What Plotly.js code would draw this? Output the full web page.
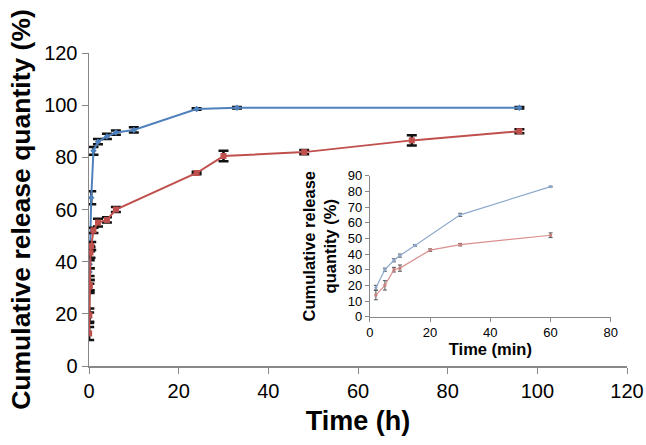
<!DOCTYPE html>
<html><head><meta charset="utf-8">
<script src="https://cdn.plot.ly/plotly-3.0.1.min.js"></script>
<style>html,body{margin:0;padding:0;background:#fff}#chart{width:646px;height:445px}</style>
</head><body><div id="chart"></div>
<script>
// Main chart (hours)
const blueHours = [0.033, 0.083, 0.133, 0.167, 0.25, 0.5, 1, 2, 4, 6, 10, 24, 33, 96];
const blueMain  = [18.5, 30, 36, 39, 45, 64.5, 82.5, 86, 88, 89.5, 90.5, 98.5, 99, 99];
const blueErr   = [2, 1.5, 1.5, 1.5, 1, 2.5, 1.5, 1, 1, 0.8, 1, 0.3, 0.3, 0.3];
const redHours  = [0.033, 0.083, 0.133, 0.167, 0.333, 0.5, 1, 2, 4, 6, 24, 30, 48, 72, 96];
const redMain   = [12.5, 19.5, 30.5, 31, 43.5, 46, 52, 55, 56, 60, 74, 80.5, 82, 86.5, 90];
const redErr    = [2.5, 2.5, 2.5, 2, 2, 1.5, 1, 1.5, 1, 1, 0.5, 2, 0.8, 2, 0.8];
// Inset (minutes)
const blueMin   = [2, 5, 8, 10, 15, 30, 60];
const blueInset = [18.5, 30, 36, 39, 45.5, 65, 83];
const blueInErr = [1.5, 1, 1, 1, 0.5, 1, 0.3];
const redMin    = [2, 5, 8, 10, 20, 30, 60];
const redInset  = [13.8, 20, 30, 31, 42.5, 46, 52];
const redInErr  = [3, 3, 1.5, 2, 0.8, 0.8, 1.5];

const blue = '#4F81BD', red = '#C0504D';
const font = 'Liberation Sans, Arial, sans-serif';

const traces = [
  {x: blueHours, y: blueMain, type: 'scatter', mode: 'lines+markers',
   line: {color: blue, width: 2}, marker: {symbol: 'diamond', size: 5, color: blue},
   error_y: {type: 'data', array: blueErr, visible: true, color: '#111', thickness: 2.5, width: 5},
   xaxis: 'x', yaxis: 'y'},
  {x: redHours, y: redMain, type: 'scatter', mode: 'lines+markers',
   line: {color: red, width: 2}, marker: {symbol: 'square', size: 6, color: red},
   error_y: {type: 'data', array: redErr, visible: true, color: '#111', thickness: 2.5, width: 5},
   xaxis: 'x', yaxis: 'y'},
  {x: blueMin, y: blueInset, type: 'scatter', mode: 'lines+markers',
   line: {color: '#8FAACC', width: 1.2}, marker: {symbol: 'diamond', size: 3, color: '#8FAACC'},
   error_y: {type: 'data', array: blueInErr, visible: true, color: '#555', thickness: 1, width: 2},
   xaxis: 'x2', yaxis: 'y2'},
  {x: redMin, y: redInset, type: 'scatter', mode: 'lines+markers',
   line: {color: '#D9908E', width: 1.2}, marker: {symbol: 'square', size: 3, color: '#C9807E'},
   error_y: {type: 'data', array: redInErr, visible: true, color: '#555', thickness: 1, width: 2},
   xaxis: 'x2', yaxis: 'y2'}
];

const layout = {
  width: 646, height: 445,
  margin: {l: 89, r: 19, t: 53, b: 79},
  paper_bgcolor: '#fff', plot_bgcolor: 'rgba(0,0,0,0)',
  showlegend: false,
  font: {family: font, color: '#000'},
  xaxis: {range: [0, 120], dtick: 20, showgrid: false, zeroline: false,
    showline: true, linecolor: '#888', linewidth: 1.5, ticks: 'outside', ticklen: 6, tickcolor: '#888',
    tickfont: {size: 20, family: font}, domain: [0, 1],
    title: {text: '<b>Time (h)</b>', font: {size: 27, family: font}, standoff: 10}},
  yaxis: {range: [0, 120], dtick: 20, showgrid: false, zeroline: false,
    showline: true, linecolor: '#888', linewidth: 1.5, ticks: 'outside', ticklen: 6, tickcolor: '#888',
    tickfont: {size: 20, family: font}, domain: [0, 1],
    title: {text: '<b>Cumulative release quantity (%)</b>', font: {size: 26.5, family: font}, standoff: 6}},
  xaxis2: {range: [0, 80], dtick: 20, domain: [0.522, 0.970], anchor: 'y2', showgrid: false, zeroline: false,
    showline: true, linecolor: '#888', linewidth: 1, ticks: 'outside', ticklen: 4, tickcolor: '#888',
    tickfont: {size: 13, family: font},
    title: {text: '<b>Time (min)</b>', font: {size: 16.5, family: font}, standoff: 0}},
  yaxis2: {range: [0, 90], dtick: 10, domain: [0.1575, 0.608], anchor: 'x2', showgrid: false, zeroline: false,
    showline: true, linecolor: '#888', linewidth: 1, ticks: 'outside', ticklen: 4, tickcolor: '#888',
    tickfont: {size: 13, family: font},
    title: {text: '<b>Cumulative release<br>quantity (%)</b>', font: {size: 16.5, family: font}, standoff: 6}}
};

Plotly.newPlot('chart', traces, layout, {displayModeBar: false, staticPlot: true});
</script>
</body></html>
